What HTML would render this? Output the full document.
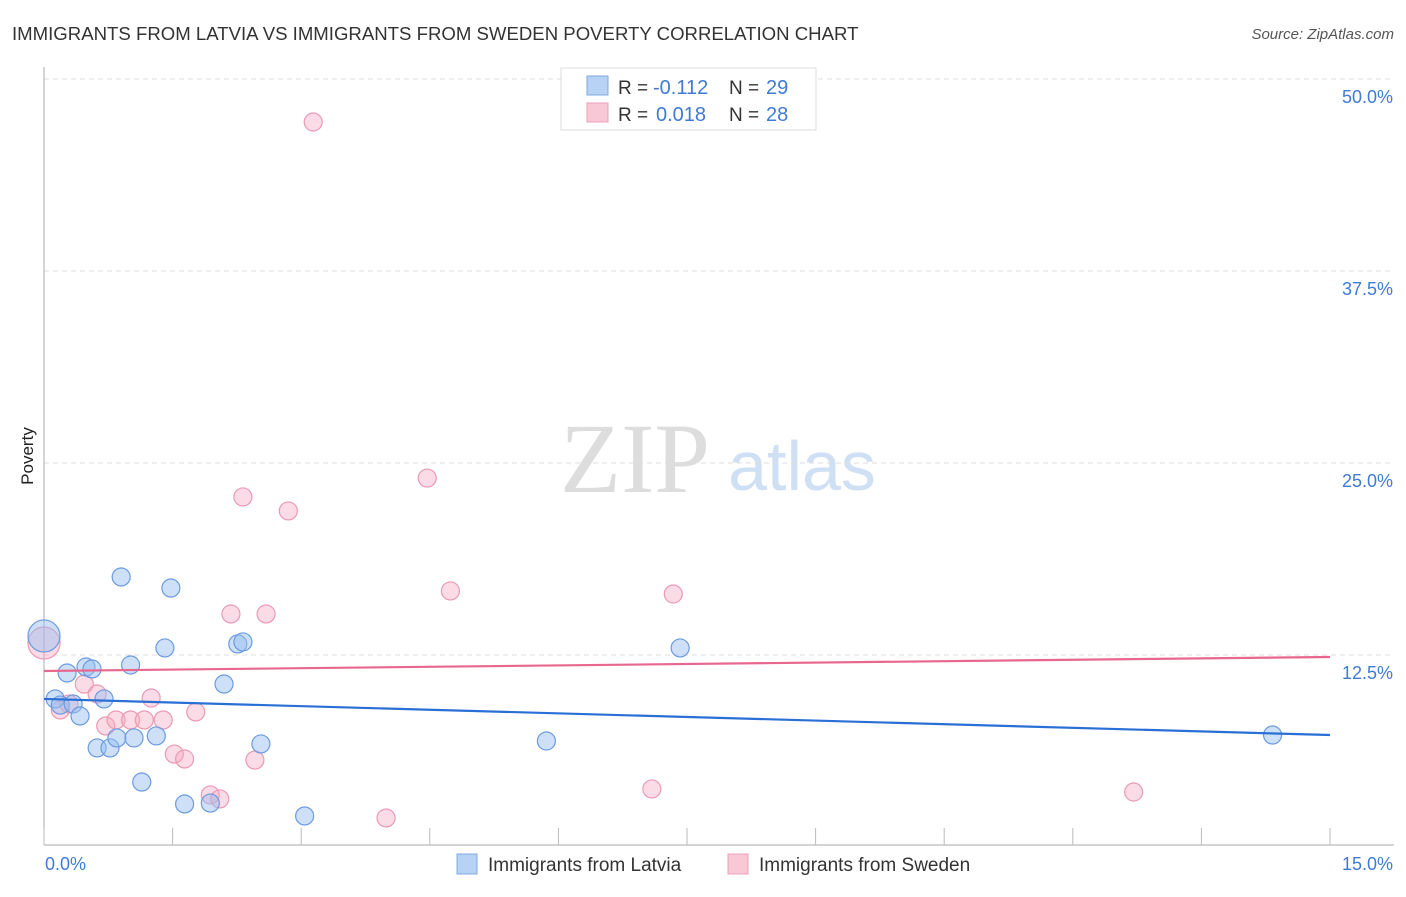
<!DOCTYPE html>
<html><head><meta charset="utf-8"><style>
body{margin:0;background:#fff;font-family:"Liberation Sans",sans-serif}
</style></head><body>
<svg id="c" width="1406" height="892" font-family="Liberation Sans, sans-serif">
<text x="12" y="40" font-size="18.6" fill="#333">IMMIGRANTS FROM LATVIA VS IMMIGRANTS FROM SWEDEN POVERTY CORRELATION CHART</text>
<text x="1394" y="39" font-size="15" fill="#555" text-anchor="end" font-style="italic">Source: ZipAtlas.com</text>
<text x="635" y="492" font-size="100" fill="#ddd" style="font-family:'Liberation Serif',serif" text-anchor="middle">ZIP</text>
<text x="802" y="490" font-size="70" fill="#cfe0f5" text-anchor="middle">atlas</text>
<g id="grid"></g><g id="axes"></g><g id="marks"></g>
<text transform="translate(33,456) rotate(-90)" font-size="17" fill="#222" text-anchor="middle">Poverty</text>
<text x="45" y="870" font-size="18" fill="#3f7bd6">0.0%</text>
<text x="1393" y="870" font-size="18" fill="#3f7bd6" text-anchor="end">15.0%</text>
<g>
<rect x="561" y="68" width="255" height="62" fill="#fff" stroke="#ddd"/>
<rect x="587" y="76" width="21" height="19" fill="#b7d2f5" stroke="#7fa8e0"/>
<rect x="587" y="103" width="21" height="19" fill="#f9c8d6" stroke="#eaa0b8"/>
<text x="618" y="94" font-size="19" fill="#333">R =</text>
<text x="653" y="94" font-size="20" fill="#3f7bd6">-0.112</text>
<text x="729" y="94" font-size="19" fill="#333">N =</text>
<text x="766" y="94" font-size="20" fill="#3f7bd6">29</text>
<text x="618" y="121" font-size="19" fill="#333">R =</text>
<text x="656" y="121" font-size="20" fill="#3f7bd6">0.018</text>
<text x="729" y="121" font-size="19" fill="#333">N =</text>
<text x="766" y="121" font-size="20" fill="#3f7bd6">28</text>
</g>
<g>
<rect x="457" y="854" width="20" height="20" fill="#b7d2f5" stroke="#7fa8e0"/>
<text x="488" y="871" font-size="19" fill="#333">Immigrants from Latvia</text>
<rect x="728" y="854" width="20" height="20" fill="#f9c8d6" stroke="#eaa0b8"/>
<text x="759" y="871" font-size="19" fill="#333">Immigrants from Sweden</text>
</g>
</svg>
<script>
const yTicks=[12.5,25,37.5,50];
const yTickLabels=["12.5%","25.0%","37.5%","50.0%"];
const xTicks=[0,1.5,3,4.5,6,7.5,9,10.5,12,13.5,15];
const latviaX=[0,0.13,0.27,0.19,0.34,0.42,0.49,0.56,0.62,0.70,0.77,0.85,0.90,1.01,1.05,1.14,1.31,1.41,1.48,1.64,1.94,2.10,2.26,2.32,2.53,3.04,5.86,7.42,14.33];
const latviaY=[13.74,9.64,11.33,9.24,9.31,8.53,11.72,11.59,6.45,9.64,6.45,7.10,17.58,11.85,7.10,4.23,7.23,12.96,16.86,2.80,2.86,10.61,13.22,13.35,6.71,2.02,6.90,12.96,7.29];
const swedenX=[0,0.19,0.29,0.47,0.62,0.72,0.84,1.01,1.17,1.25,1.39,1.52,1.64,1.77,1.94,2.05,2.18,2.32,2.46,2.59,2.85,3.14,3.99,4.47,4.74,7.09,7.34,12.71];
const swedenY=[13.28,8.92,9.31,10.61,9.96,7.88,8.27,8.27,8.27,9.70,8.27,6.05,5.73,8.79,3.39,3.13,15.17,22.79,5.66,15.17,21.88,47.20,1.89,24.02,16.67,3.78,16.47,3.58];
const latviaTrend=[9.64,7.29];
const swedenTrend=[11.46,12.37];
const NS="http://www.w3.org/2000/svg";
const X=v=>44+v/15*1286, Y=v=>847-v/12.5*192;
function mk(t,a,p){const e=document.createElementNS(NS,t);for(const k in a)e.setAttribute(k,a[k]);p.appendChild(e);return e;}
const grid=document.getElementById('grid'),axes=document.getElementById('axes'),marks=document.getElementById('marks');
yTicks.forEach((t,i)=>{
 const l=mk('line',{x1:44,x2:1394,y1:Y(t),y2:Y(t),stroke:'#ddd','stroke-dasharray':'5,4'},grid);
 
 
 const tx=mk('text',{x:1393,y:Y(t)+24,'font-size':18,fill:'#3f7bd6','text-anchor':'end'},grid);
 tx.textContent=yTickLabels[i];
 
 
});
const ya=mk('line',{x1:44,x2:44,y1:67,y2:845,stroke:'#aaa'},axes);


const xa=mk('line',{x1:44,x2:1394,y1:845,y2:845,stroke:'#aaa'},axes);


xTicks.forEach(t=>{
 const l=mk('line',{x1:X(t),x2:X(t),y1:828,y2:845,stroke:'#bbb'},axes);
 
 
});
function pts(xs,ys,fill,stroke,name){
 xs.forEach((x,i)=>{
  const c=mk('circle',{cx:X(x),cy:Y(ys[i]),r:i===0?16:9,fill:fill,stroke:stroke,'stroke-width':1.2},marks);
  
  
 });
}
pts(swedenX,swedenY,'rgba(246,170,192,0.42)','#eb9ab2','point-sweden');
pts(latviaX,latviaY,'rgba(150,190,240,0.48)','#6b9be0','point-latvia');
const tl1=mk('line',{x1:X(0),x2:X(15),y1:Y(latviaTrend[0]),y2:Y(latviaTrend[1]),stroke:'#2a6fd6','stroke-width':2.2},marks);


const tl2=mk('line',{x1:X(0),x2:X(15),y1:Y(swedenTrend[0]),y2:Y(swedenTrend[1]),stroke:'#e8678f','stroke-width':2.2},marks);


</script>
</body></html>
